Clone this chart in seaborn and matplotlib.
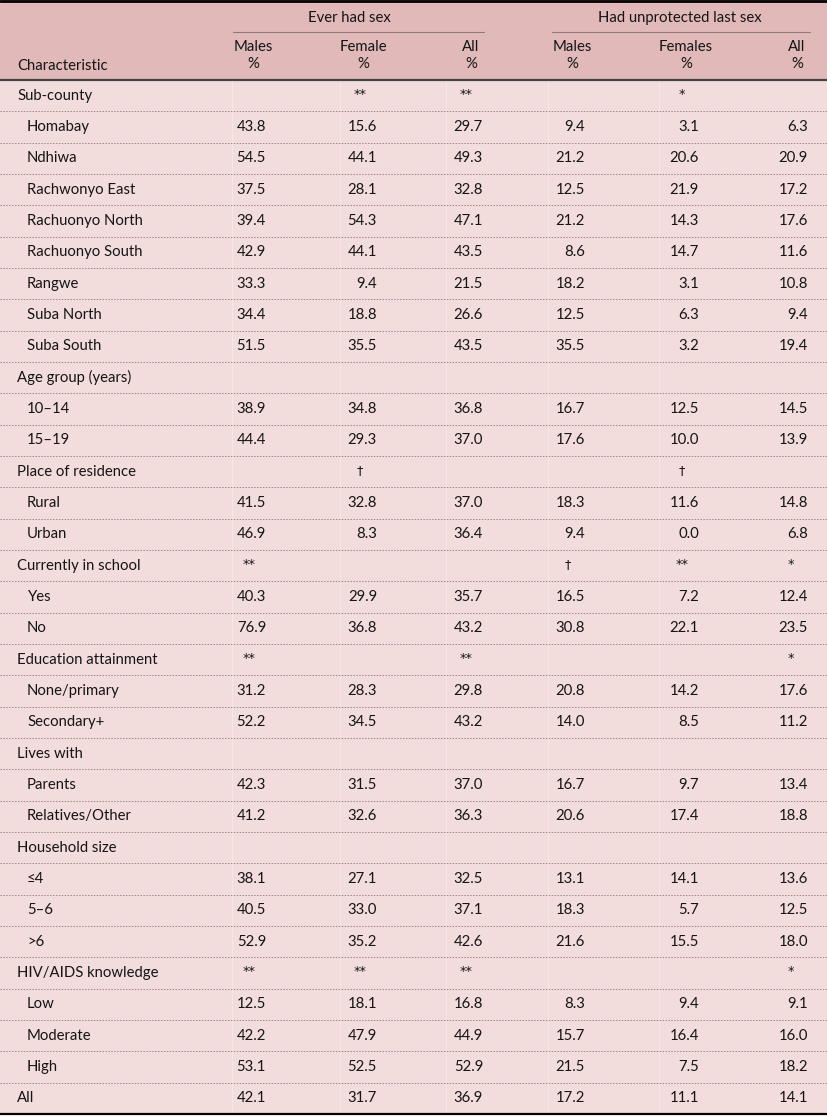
import matplotlib
matplotlib.use("Agg")
import matplotlib.pyplot as plt
import seaborn as sns

# table content
characteristics = [
    "Sub-county", "Homabay", "Ndhiwa", "Rachwonyo East", "Rachuonyo North",
    "Rachuonyo South", "Rangwe", "Suba North", "Suba South",
    "Age group (years)", "10\u201314", "15\u201319",
    "Place of residence", "Rural", "Urban",
    "Currently in school", "Yes", "No",
    "Education attainment", "None/primary", "Secondary+",
    "Lives with", "Parents", "Relatives/Other",
    "Household size", "\u22644", "5\u20136", ">6",
    "HIV/AIDS knowledge", "Low", "Moderate", "High",
    "All",
]
is_group = [1, 0, 0, 0, 0, 0, 0, 0, 0,
            1, 0, 0,
            1, 0, 0,
            1, 0, 0,
            1, 0, 0,
            1, 0, 0,
            1, 0, 0, 0,
            1, 0, 0, 0,
            1]

N = None
ever_males = [N, 43.8, 54.5, 37.5, 39.4, 42.9, 33.3, 34.4, 51.5, N, 38.9, 44.4, N, 41.5, 46.9,
              N, 40.3, 76.9, N, 31.2, 52.2, N, 42.3, 41.2, N, 38.1, 40.5, 52.9, N, 12.5, 42.2, 53.1, 42.1]
ever_females = [N, 15.6, 44.1, 28.1, 54.3, 44.1, 9.4, 18.8, 35.5, N, 34.8, 29.3, N, 32.8, 8.3,
                N, 29.9, 36.8, N, 28.3, 34.5, N, 31.5, 32.6, N, 27.1, 33.0, 35.2, N, 18.1, 47.9, 52.5, 31.7]
ever_all = [N, 29.7, 49.3, 32.8, 47.1, 43.5, 21.5, 26.6, 43.5, N, 36.8, 37.0, N, 37.0, 36.4,
            N, 35.7, 43.2, N, 29.8, 43.2, N, 37.0, 36.3, N, 32.5, 37.1, 42.6, N, 16.8, 44.9, 52.9, 36.9]
unprot_males = [N, 9.4, 21.2, 12.5, 21.2, 8.6, 18.2, 12.5, 35.5, N, 16.7, 17.6, N, 18.3, 9.4,
                N, 16.5, 30.8, N, 20.8, 14.0, N, 16.7, 20.6, N, 13.1, 18.3, 21.6, N, 8.3, 15.7, 21.5, 17.2]
unprot_females = [N, 3.1, 20.6, 21.9, 14.3, 14.7, 3.1, 6.3, 3.2, N, 12.5, 10.0, N, 11.6, 0.0,
                  N, 7.2, 22.1, N, 14.2, 8.5, N, 9.7, 17.4, N, 14.1, 5.7, 15.5, N, 9.4, 16.4, 7.5, 11.1]
unprot_all = [N, 6.3, 20.9, 17.2, 17.6, 11.6, 10.8, 9.4, 19.4, N, 14.5, 13.9, N, 14.8, 6.8,
              N, 12.4, 23.5, N, 17.6, 11.2, N, 13.4, 18.8, N, 13.6, 12.5, 18.0, N, 9.1, 16.0, 18.2, 14.1]

# significance markers on the group rows: (row, column index, marker)
sig_marks = [
    (0, 1, "**"), (0, 2, "**"), (0, 4, "*"),
    (12, 1, "\u2020"), (12, 4, "\u2020"),
    (15, 0, "**"), (15, 3, "\u2020"), (15, 4, "**"), (15, 5, "*"),
    (18, 0, "**"), (18, 2, "**"), (18, 5, "*"),
    (28, 0, "**"), (28, 1, "**"), (28, 2, "**"), (28, 5, "*"),
]

col_groups = ["Ever had sex", "Had unprotected last sex"]
col_names = ["Males", "Female", "All", "Males", "Females", "All"]
columns = [ever_males, ever_females, ever_all, unprot_males, unprot_females, unprot_all]

sns.set_theme(style="white")
plt.rcParams["font.family"] = ["Lato", "DejaVu Sans"]

W, H = 827, 1116
fig = plt.figure(figsize=(W / 100, H / 100), dpi=100)
ax = fig.add_axes([0, 0, 1, 1])
ax.set_xlim(0, W)
ax.set_ylim(H, 0)
ax.axis("off")

header_bg = "#e2b9b9"
body_bg = "#f3dcdc"
txt = "#151515"
fs = 10.7

head_bottom = 80
body_bottom = 1114
row_h = (body_bottom - head_bottom) / len(characteristics)

ax.add_patch(plt.Rectangle((0, 0), W, head_bottom, color=header_bg, lw=0))
ax.add_patch(plt.Rectangle((0, head_bottom), W, body_bottom - head_bottom, color=body_bg, lw=0))

# column right edges and header centres
col_right = [266, 377, 483, 585, 699, 808]
head_x = [253, 363, 471, 572, 686, 797]
cell_edges = [232, 340, 446, 548, 659]

for x in cell_edges:
    ax.plot([x, x], [head_bottom, body_bottom], color="white", lw=0.8, alpha=0.3)

# header
ax.plot([0, W], [1, 1], color="black", lw=2)
ax.plot([0, W], [head_bottom, head_bottom], color="#444444", lw=1.6)
ax.plot([0, W], [body_bottom, body_bottom], color="black", lw=1.6)
ax.text(349, 18, col_groups[0], ha="center", va="center", fontsize=fs, color=txt)
ax.text(680, 18, col_groups[1], ha="center", va="center", fontsize=fs, color=txt)
ax.plot([233, 484], [32, 32], color="#8c7a7a", lw=0.8)
ax.plot([552, 810], [32, 32], color="#8c7a7a", lw=0.8)
for name, x in zip(col_names, head_x):
    ax.text(x, 47, name, ha="center", va="center", fontsize=fs, color=txt)
    ax.text(x, 64, "%", ha="center", va="center", fontsize=fs, color=txt)
ax.text(17, 66, "Characteristic", ha="left", va="center", fontsize=fs, color=txt)

# body rows
for i, label in enumerate(characteristics):
    yc = head_bottom + (i + 0.5) * row_h
    x0 = 17 if is_group[i] else 27
    ax.text(x0, yc, label, ha="left", va="center", fontsize=fs, color=txt)
    for col, xr in zip(columns, col_right):
        if col[i] is not None:
            ax.text(xr, yc, f"{col[i]:.1f}", ha="right", va="center", fontsize=fs, color=txt)
    if i < len(characteristics) - 1:
        yl = head_bottom + (i + 1) * row_h
        ax.plot([0, W], [yl, yl], color="#9a8888", lw=0.7, linestyle=(0, (1.5, 1.5)))

for r, c, m in sig_marks:
    yc = head_bottom + (r + 0.5) * row_h
    ax.text(col_right[c] - 17, yc - 1, m, ha="center", va="center", fontsize=fs - 1.5,
            color=txt, family=["DejaVu Sans"])

fig.savefig("out.png", dpi=100, facecolor="white")
